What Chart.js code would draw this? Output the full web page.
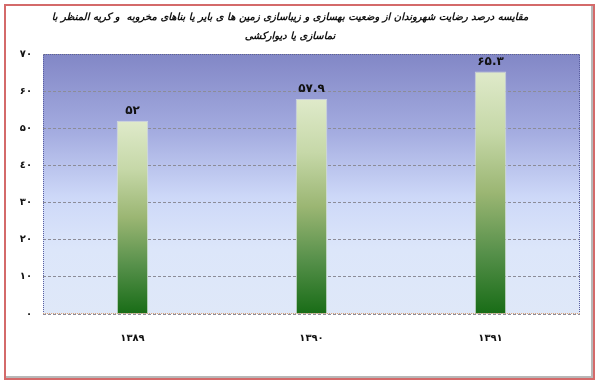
<!DOCTYPE html>
<html>
<head>
<meta charset="utf-8">
<script src="https://cdn.jsdelivr.net/npm/chart.js"></script>
<style>
  html, body { margin: 0; padding: 0; background: #fff; }
  #wrap { position: relative; width: 600px; height: 383px; }
  #frame {
    position: absolute; left: 4px; top: 4px; width: 587px; height: 372px;
    border: 2px solid #d46a6a; box-shadow: inset -2px -2px 0 #b8b8b8;
  }
  canvas { position: absolute; left: 0; top: 0; }
</style>
</head>
<body>
<div id="wrap">
  <div id="frame"></div>
  <canvas id="chart" width="600" height="383"></canvas>
</div>
<script>
// chart data
const years = ['۱۳۸۹', '۱۳۹۰', '۱۳۹۱'];
const satisfaction = [52, 57.9, 65.3];
const valueLabels = ['۵۲', '۵۷.۹', '۶۵.۳'];
const yTicks = ['۰', '۱۰', '۲۰', '۳۰', '٤۰', '۵۰', '۶۰', '۷۰'];
const titleLines = [
  'مقایسه درصد رضایت شهروندان از وضعیت بهسازی و زیباسازی زمین ها ی بایر یا بناهای مخروبه  و کریه المنظر با',
  'نماسازی یا دیوارکشی'
];

const persianFont = '"DejaVu Sans", sans-serif';

// plot area background gradient
const plotBg = {
  id: 'plotBg',
  beforeDraw(chart) {
    const { ctx, chartArea: a } = chart;
    const g = ctx.createLinearGradient(0, a.top, 0, a.bottom);
    g.addColorStop(0, '#8287c6');
    g.addColorStop(0.3, '#a4ace0');
    g.addColorStop(0.55, '#cdd8f8');
    g.addColorStop(0.75, '#dce6fa');
    g.addColorStop(1, '#dfe8f8');
    ctx.save();
    ctx.fillStyle = g;
    ctx.fillRect(a.left, a.top, a.right - a.left, a.bottom - a.top);
    ctx.restore();
  },
  afterDraw(chart) {
    const { ctx, chartArea: a } = chart;
    ctx.save();
    ctx.setLineDash([1, 1]);
    ctx.strokeStyle = '#5a5fa0';
    ctx.lineWidth = 1;
    ctx.beginPath();
    ctx.moveTo(a.left + 0.5, a.bottom);
    ctx.lineTo(a.left + 0.5, a.top + 0.5);
    ctx.lineTo(a.right - 0.5, a.top + 0.5);
    ctx.lineTo(a.right - 0.5, a.bottom);
    ctx.stroke();
    ctx.strokeStyle = '#d9a27a';
    ctx.beginPath();
    ctx.moveTo(a.left, a.bottom - 0.5);
    ctx.lineTo(a.right, a.bottom - 0.5);
    ctx.stroke();
    ctx.restore();
  }
};

// value labels above bars
const barLabels = {
  id: 'barLabels',
  afterDatasetsDraw(chart) {
    const { ctx } = chart;
    const meta = chart.getDatasetMeta(0);
    ctx.save();
    ctx.font = 'bold 12px ' + persianFont;
    ctx.fillStyle = '#111';
    ctx.textAlign = 'center';
    ctx.textBaseline = 'bottom';
    meta.data.forEach((bar, i) => {
      ctx.fillText(valueLabels[i], bar.x, bar.y - 4);
    });
    ctx.restore();
  }
};

new Chart(document.getElementById('chart'), {
  type: 'bar',
  data: {
    labels: years,
    datasets: [{
      data: satisfaction,
      backgroundColor(c) {
        const chart = c.chart;
        if (!chart.chartArea) return '#7aa060';
        const y = chart.scales.y;
        const top = y.getPixelForValue(c.raw);
        const bottom = y.getPixelForValue(0);
        const g = chart.ctx.createLinearGradient(0, top, 0, bottom);
        g.addColorStop(0, '#dfeaca');
        g.addColorStop(0.25, '#c6d8a8');
        g.addColorStop(0.5, '#9bb673');
        g.addColorStop(0.75, '#56904a');
        g.addColorStop(1, '#186c16');
        return g;
      },
      borderColor: 'rgba(240,245,230,0.6)',
      borderWidth: 1,
      barPercentage: 0.72,
      categoryPercentage: 0.245
    }]
  },
  options: {
    responsive: false,
    animation: false,
    layout: { padding: { left: 0, right: 20, top: 0, bottom: 0 } },
    plugins: {
      legend: { display: false },
      tooltip: { enabled: false },
      title: {
        display: true,
        text: titleLines,
        color: '#111',
        font: { family: persianFont, size: 10, weight: 'bold', style: 'italic', lineHeight: '19px' },
        padding: { top: 8, bottom: 8 }
      }
    },
    scales: {
      x: {
        grid: { display: false },
        border: { display: false },
        ticks: { color: '#111', font: { family: persianFont, size: 10, weight: 'bold' }, padding: 10 },
        afterFit(s) { s.height = 69; }
      },
      y: {
        min: 0, max: 70,
        ticks: {
          stepSize: 10,
          color: '#111',
          padding: 11,
          font: { family: persianFont, size: 10, weight: 'bold' },
          callback(v) { return yTicks[v / 10]; }
        },
        grid: { color: '#8c8c98', lineWidth: 1, drawTicks: false },
        border: { display: false, dash: [3, 2] },
        afterFit(s) { s.width = 43; }
      }
    }
  },
  plugins: [plotBg, barLabels]
});
</script>
</body>
</html>
